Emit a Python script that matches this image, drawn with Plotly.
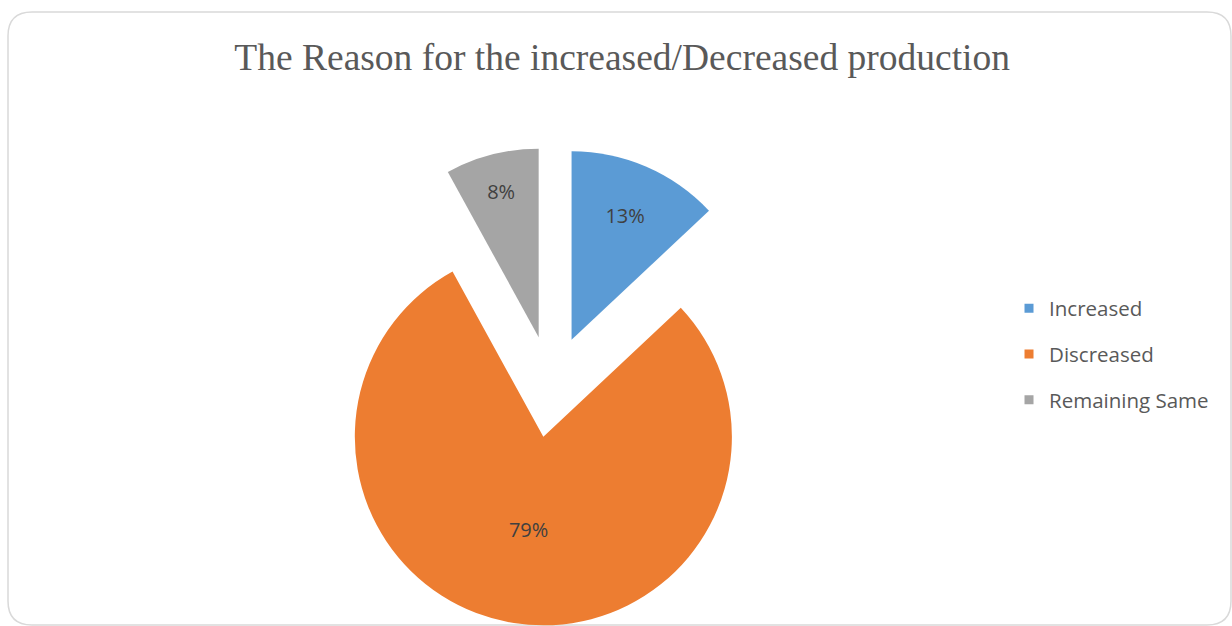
import plotly.graph_objects as go

categories = ["Increased", "Discreased", "Remaining Same"]
values = [13, 79, 8]
colors = ["#5B9BD5", "#ED7D31", "#A5A5A5"]
title_text = "The Reason for the increased/Decreased production"

W, H = 1232, 626

fig = go.Figure()

fig.add_trace(go.Pie(
    labels=categories,
    values=values,
    sort=False,
    direction="clockwise",
    rotation=0,
    pull=[0.27, 0.27, 0.27],
    marker=dict(colors=colors, line=dict(width=0)),
    textinfo="percent",
    textposition="inside",
    insidetextorientation="horizontal",
    textfont=dict(family="Open Sans", size=20, color="#404040"),
    domain=dict(x=[0.2, 0.695], y=[0.0, 0.765]),
    showlegend=False,
    hoverinfo="label+percent",
))

# legend entries (one per category)
for name, col in zip(categories, colors):
    fig.add_trace(go.Scatter(
        x=[None], y=[None], mode="markers", name=name,
        legendgroup=name,
        marker=dict(symbol="square", size=9, color=col),
        showlegend=True, hoverinfo="skip",
    ))

# rounded border
def px(x):
    return x / W

def py(y):
    return 1 - y / H

x0, x1, y0, y1, r = 8, 1231, 12, 625, 24
path = (
    f"M {px(x0 + r)},{py(y0)} L {px(x1 - r)},{py(y0)} "
    f"Q {px(x1)},{py(y0)} {px(x1)},{py(y0 + r)} "
    f"L {px(x1)},{py(y1 - r)} Q {px(x1)},{py(y1)} {px(x1 - r)},{py(y1)} "
    f"L {px(x0 + r)},{py(y1)} Q {px(x0)},{py(y1)} {px(x0)},{py(y1 - r)} "
    f"L {px(x0)},{py(y0 + r)} Q {px(x0)},{py(y0)} {px(x0 + r)},{py(y0)} Z"
)

fig.update_layout(
    width=W, height=H,
    margin=dict(l=0, r=0, t=0, b=0),
    paper_bgcolor="white",
    plot_bgcolor="white",
    title=dict(
        text=title_text,
        x=0.505, xanchor="center",
        y=1 - 57 / H, yanchor="middle",
        font=dict(family="Liberation Serif", size=37.5, color="#595959"),
    ),
    xaxis=dict(visible=False),
    yaxis=dict(visible=False),
    legend=dict(
        x=0.819, xanchor="left",
        y=1 - 354 / H, yanchor="middle",
        font=dict(family="Open Sans", size=20.5, color="#595959"),
        tracegroupgap=16,
        itemwidth=30,
        bgcolor="rgba(0,0,0,0)",
    ),
    shapes=[dict(
        type="path", path=path, xref="paper", yref="paper",
        line=dict(color="#D9D9D9", width=1.5),
        layer="below",
    )],
)

fig.write_html("out.html")
